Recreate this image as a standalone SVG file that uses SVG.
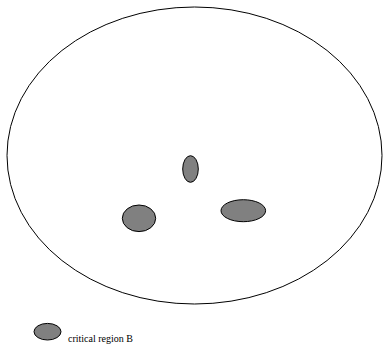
<svg xmlns="http://www.w3.org/2000/svg" width="383" height="345" viewBox="0 0 383 345">
<style>
.outer{fill:#fff;stroke:#000;stroke-width:1}
.region{fill:#808080;stroke:#000;stroke-width:1}
.lbl{font-family:"Liberation Serif",serif;font-size:10px;fill:#000}
</style>
<rect width="383" height="345" fill="#fff"/>
<g id="universe"><ellipse class="outer" cx="194.5" cy="155.5" rx="187.5" ry="148.5"/></g>
<g id="regionTop"><ellipse class="region" cx="190.5" cy="169" rx="7.8" ry="13.3"/></g>
<g id="regionLeft"><ellipse class="region" cx="139" cy="218.3" rx="16.7" ry="13.3"/></g>
<g id="regionRight"><ellipse class="region" cx="243.3" cy="210.7" rx="22.3" ry="11"/></g>
<g id="legend">
<ellipse class="region" cx="47.5" cy="331.7" rx="13.5" ry="8.3"/>
<text class="lbl" x="68" y="341.5">critical region B</text>
</g>
<g id="connectors"/>
</svg>
